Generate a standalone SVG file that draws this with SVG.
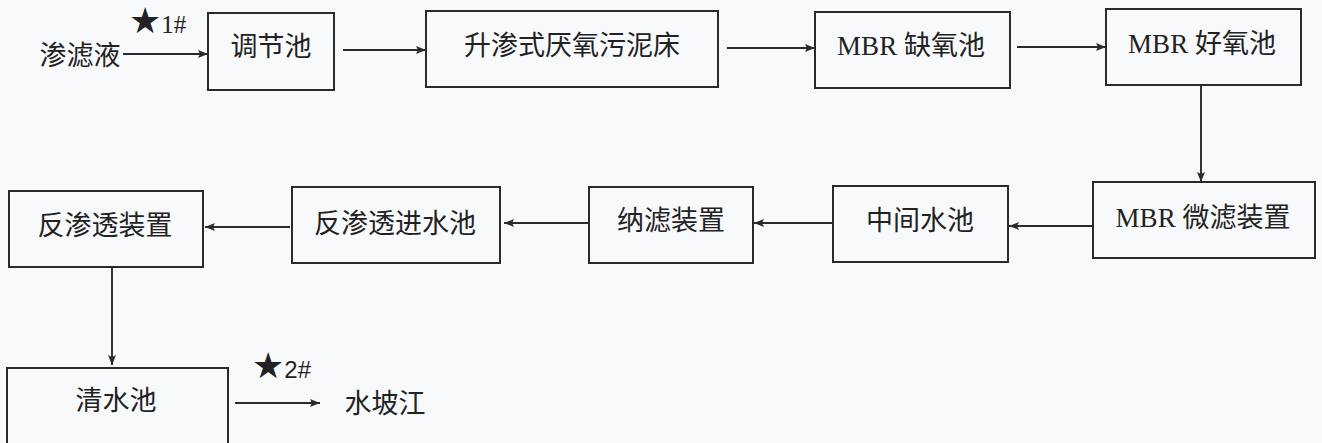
<svg xmlns="http://www.w3.org/2000/svg" width="1322" height="443" viewBox="0 0 1322 443">
<style>
.box{fill:none;stroke:#2a2a2a;stroke-width:2}
.lbl{font-family:"Liberation Serif","Noto Sans CJK SC",serif;font-size:27px;fill:#222;text-anchor:middle}
.star{font-family:"Liberation Serif","Noto Sans CJK SC",serif;font-size:25px;fill:#222}
.sym{font-family:"DejaVu Sans",sans-serif;font-size:36px}
.con{stroke:#2a2a2a;stroke-width:1.9;fill:none;marker-end:url(#ah)}
</style>
<defs>
<marker id="ah" markerUnits="userSpaceOnUse" markerWidth="12" markerHeight="9" refX="10" refY="4" orient="auto">
<path d="M0,0 L10,4 L0,8 L2,4 z" fill="#2a2a2a"/>
</marker>
</defs>
<rect width="1322" height="443" fill="#f8f9fb"/>
<g id="connectors">
<line class="con" x1="123" y1="54" x2="208" y2="54"/>
<line class="con" x1="343" y1="50" x2="426" y2="50"/>
<line class="con" x1="727" y1="48" x2="815" y2="48"/>
<line class="con" x1="1017" y1="47" x2="1106" y2="47"/>
<line class="con" x1="1201" y1="86" x2="1201" y2="182"/>
<line class="con" x1="1093" y1="226" x2="1009" y2="226"/>
<line class="con" x1="833" y1="223" x2="754" y2="223"/>
<line class="con" x1="589" y1="223" x2="504" y2="223"/>
<line class="con" x1="290" y1="227" x2="205" y2="227"/>
<line class="con" x1="112" y1="267" x2="112" y2="365"/>
<line class="con" x1="235" y1="403" x2="320" y2="403"/>
</g>
<g id="source"><text class="lbl" x="80" y="65">渗滤液</text></g>
<g id="mark1"><text class="star" x="129" y="33"><tspan class="sym">★</tspan>1#</text></g>
<g id="tiaojiechi"><rect class="box" x="208" y="13" width="126" height="77"/><text class="lbl" x="271" y="56">调节池</text></g>
<g id="uasb"><rect class="box" x="426" y="11" width="292" height="76"/><text class="lbl" x="572" y="55">升渗式厌氧污泥床</text></g>
<g id="anoxic"><rect class="box" x="815" y="12" width="195" height="76"/><text class="lbl" x="911" y="55">MBR 缺氧池</text></g>
<g id="aerobic"><rect class="box" x="1106" y="9" width="195" height="76"/><text class="lbl" x="1202" y="53">MBR 好氧池</text></g>
<g id="microfilter"><rect class="box" x="1093" y="182" width="222" height="76"/><text class="lbl" x="1203" y="227">MBR 微滤装置</text></g>
<g id="middle"><rect class="box" x="833" y="186" width="175" height="76"/><text class="lbl" x="920" y="230">中间水池</text></g>
<g id="nanofilter"><rect class="box" x="589" y="187" width="164" height="76"/><text class="lbl" x="671" y="230">纳滤装置</text></g>
<g id="ro-inlet"><rect class="box" x="292" y="187" width="208" height="76"/><text class="lbl" x="395" y="233">反渗透进水池</text></g>
<g id="ro"><rect class="box" x="9" y="191" width="194" height="76"/><text class="lbl" x="105" y="235">反渗透装置</text></g>
<g id="clearwater"><rect class="box" x="7" y="368" width="221" height="82"/><text class="lbl" x="116" y="410">清水池</text></g>
<g id="mark2"><text class="star" x="252" y="378" style="font-family:'Liberation Sans','Noto Sans CJK SC',sans-serif;font-size:24px"><tspan class="sym">★</tspan>2#</text></g>
<g id="river"><text class="lbl" x="385" y="413">水坡江</text></g>
</svg>
